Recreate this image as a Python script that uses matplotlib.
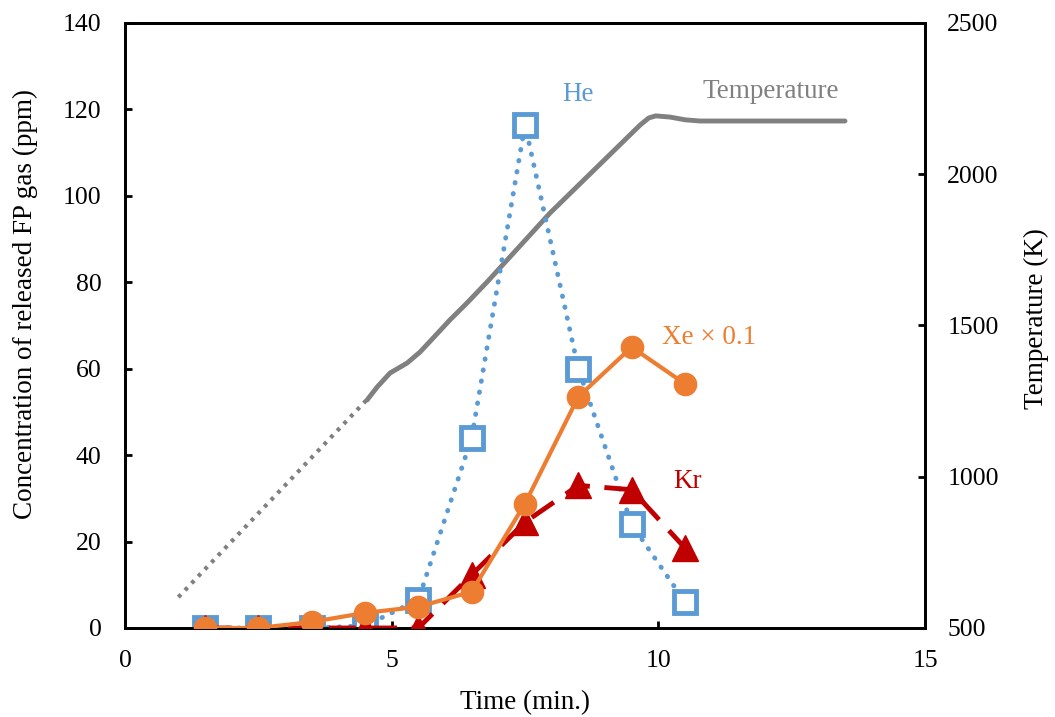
import numpy as np
import matplotlib.pyplot as plt

plt.rcParams['font.family'] = ['Liberation Serif', 'DejaVu Serif']

# Data
time = [1.5, 2.5, 3.5, 4.5, 5.5, 6.5, 7.5, 8.5, 9.5, 10.5]
he = [0, 0, 0, 0.5, 6.5, 44, 116.5, 60, 24, 6]
xe = [0, 0, 1.4, 3.5, 4.9, 8.4, 28.8, 53.5, 65, 56.5]
kr = [0, 0, 0, 0, 0, 12.3, 24.5, 33, 32, 18.5]

# temperature, dotted (estimated) part and measured part
temp_t_est = [1.0, 4.52]
temp_est = [602, 1252]
temp_t = [4.54, 4.73, 4.97, 5.29, 5.53, 5.78, 6.09, 6.41, 6.79, 7.97, 9.66, 9.82, 9.95,
          10.22, 10.5, 10.78, 13.5]
temp = [1254, 1297, 1343, 1376, 1412, 1459, 1518, 1574, 1644, 1872, 2163, 2186, 2193,
        2189, 2180, 2176, 2176]

c_he = '#5B9BD5'
c_xe = '#ED7D31'
c_kr = '#C00000'
c_t = '#808080'
fs = 19.5   # labels
fs_t = 18.5 # tick labels

fig = plt.figure(figsize=(10.55, 7.17), dpi=100)
ax = fig.add_axes([125/1055, 1 - 628/717, 800/1055, 605/717])
ax2 = ax.twinx()

# temperature on right axis
ax2.plot(temp_t_est, temp_est, color=c_t, lw=3, linestyle=(0, (0.9, 1.4)))
ax2.plot(temp_t, temp, color=c_t, lw=3.5, solid_capstyle='round', solid_joinstyle='round')
ax2.set_ylim(500, 2500)
ax2.set_yticks(np.arange(500, 2501, 500))
ax2.set_ylabel('Temperature (K)', fontsize=fs, labelpad=18)
ax2.yaxis.label.set_y(0.512)

# gases on left axis, drawn over the temperature
ax.set_zorder(ax2.get_zorder() + 1)
ax.patch.set_visible(False)

ax.plot(time, he, color=c_he, lw=3.5, linestyle=(0, (0.1, 2.2)), dash_capstyle='round',
        marker='s', markersize=16, markerfacecolor='white', markeredgecolor=c_he,
        markeredgewidth=3.5, zorder=2)
ax.plot(time, kr, color=c_kr, lw=3.5, linestyle=(0, (5.5, 3)),
        marker='^', markersize=19, markerfacecolor=c_kr, markeredgecolor=c_kr, zorder=3)
ax.plot(time, xe, color=c_xe, lw=3, marker='o', markersize=16,
        markerfacecolor=c_xe, markeredgecolor=c_xe, zorder=4)

ax.set_xlim(0, 15)
ax.set_ylim(0, 140)
ax.set_xticks([0, 5, 10, 15])
ax.set_yticks(np.arange(0, 141, 20))
ax.set_xlabel('Time (min.)', fontsize=fs, labelpad=13)
ax.set_ylabel('Concentration of released FP gas (ppm)', fontsize=fs, labelpad=18)
ax.yaxis.label.set_y(0.536)

# series labels
ax.text(8.5, 123.5, 'He', color=c_he, fontsize=fs, ha='center', va='center')
ax.text(12.1, 124.2, 'Temperature', color=c_t, fontsize=fs, ha='center', va='center')
ax.text(10.95, 67.2, 'Xe \u00d7 0.1', color=c_xe, fontsize=fs, ha='center', va='center')
ax.text(10.55, 33.8, 'Kr', color=c_kr, fontsize=fs, ha='center', va='center')

for a in (ax, ax2):
    for s in a.spines.values():
        s.set_linewidth(2)
    a.tick_params(direction='in', labelsize=fs_t, width=2, length=5)
ax.tick_params(axis='x', pad=16)
ax.tick_params(axis='y', pad=17)
ax2.tick_params(axis='y', pad=16)

fig.savefig('out.png', dpi=100)
